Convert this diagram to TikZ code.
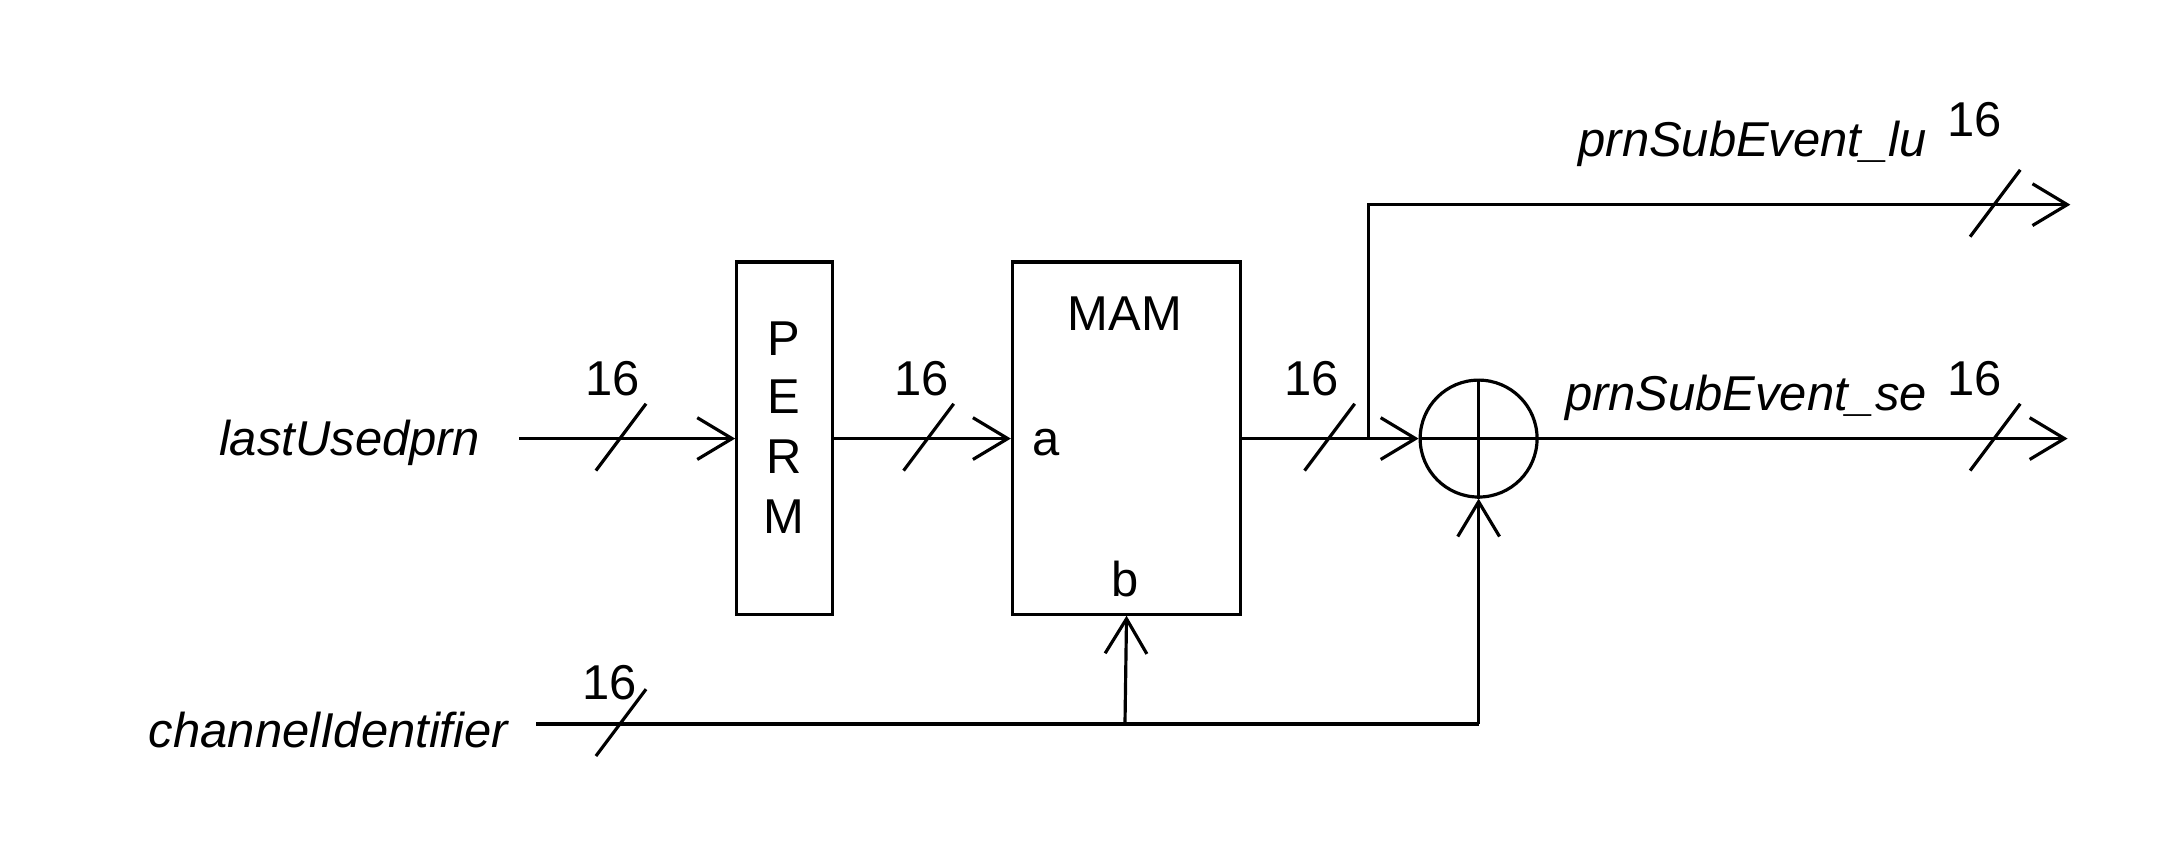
\documentclass[tikz,border=0pt]{standalone}
\usepackage{fontspec}
\setmainfont{Liberation Sans}
\usetikzlibrary{arrows.meta}
\begin{document}
\begin{tikzpicture}[x=0.02cm,y=-0.02cm,
  line width=1.3pt,
  arr/.style={-{Straight Barb[length=0.5cm,width=0.6cm,line width=1.3pt]}},
  box/.style={draw,inner sep=0pt,anchor=north west},
  txt/.style={font=\fontsize{20}{24}\selectfont,inner sep=0pt},
  lab/.style={txt,font=\fontsize{20}{24}\selectfont\itshape}]
\useasboundingbox (0,0) rectangle (1560,604);
\node[box,minimum width=1.38cm,minimum height=5.06cm] (perm) at (528,187) {};
\node[box,minimum width=3.28cm,minimum height=5.06cm] (mam) at (726,187) {};
\node[draw,circle,minimum size=1.68cm,inner sep=0pt] (xor) at (1062,315) {};
\draw[line width=1pt] (xor.north) -- (xor.south) (xor.west) -- (xor.east);
\foreach \l/\y in {P/243,E/285,R/328,M/371} \node[txt] at (563,\y) {\l};
\node[txt] at (808,225) {MAM};
\node[txt] at (751,318) {a};
\node[txt] at (808,416) {b};
\node[lab,anchor=east] (in1) at (346,318) {lastUsedprn};
\node[lab,anchor=east] (in2) at (366,524) {channelIdentifier};
\node[lab,anchor=east] (o1) at (1385,103) {prnSubEvent\_lu};
\node[lab,anchor=east] (o2) at (1385,286) {prnSubEvent\_se};
\coordinate (s1) at (373,315);
\coordinate (s2) at (385,520);
\coordinate (j) at (983,315);
\coordinate (e1) at (1487,147);
\coordinate (e2) at (1485,315);
\coordinate (bb) at (808,520);
\coordinate (bc) at (1062,520);
\draw[arr] (s1) -- (perm.west|-s1);
\draw[arr] (perm.east|-s1) -- (mam.west|-s1);
\draw[arr] (mam.east|-s1) -- (xor.west);
\draw[arr] (j) -- (983,147) -- (e1);
\draw[arr] (xor.east) -- (e2);
\draw (s2) -- (bc);
\draw[arr] (bc) -- (xor.south);
\draw[arr] (bb) -- (mam.south);
\foreach \x/\y in {446/315,667/315,955/315,1433/315,1433/147,446/520} {
  \draw (\x-18,\y+23) -- (\x+18,\y-25);
}
\foreach \x/\y in {440/272,662/272,942/272,1418/272,1418/86,438/490} \node[txt] at (\x,\y) {16};
\end{tikzpicture}
\end{document}
